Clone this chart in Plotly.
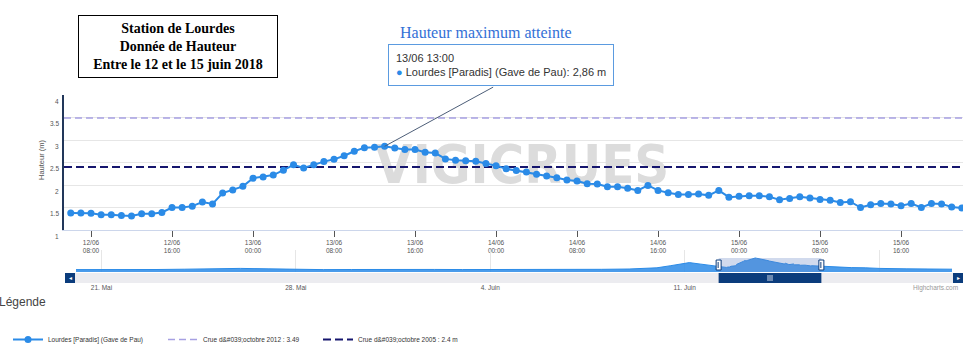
import pandas as pd
import plotly.graph_objects as go

# ---------------- data ----------------
station = "Lourdes [Paradis] (Gave de Pau)"
start_time = "2018-06-12 06:00"          # first hourly reading
hauteur_m = [
    1.38, 1.38, 1.37, 1.34, 1.34, 1.32, 1.31, 1.36, 1.36, 1.39,
    1.50, 1.50, 1.53, 1.62, 1.58, 1.82, 1.89, 1.97, 2.15, 2.18,
    2.22, 2.33, 2.45, 2.38, 2.45, 2.52, 2.57, 2.65, 2.75, 2.83,
    2.84, 2.86, 2.82, 2.79, 2.79, 2.73, 2.71, 2.58, 2.55, 2.54,
    2.53, 2.48, 2.43, 2.36, 2.32, 2.29, 2.24, 2.20, 2.16, 2.11,
    2.09, 2.03, 2.02, 1.96, 1.96, 1.93, 1.88, 1.99, 1.88, 1.83,
    1.79, 1.79, 1.80, 1.77, 1.88, 1.73, 1.75, 1.76, 1.76, 1.74,
    1.67, 1.70, 1.74, 1.71, 1.68, 1.66, 1.61, 1.63, 1.50, 1.56,
    1.59, 1.58, 1.54, 1.59, 1.50, 1.59, 1.58, 1.51, 1.49,
]

crue_names = ["Crue d&amp;#039;octobre 2012 : 3.49", "Crue d&amp;#039;octobre 2005 : 2.4 m"]
crue_levels = [3.49, 2.4]
crue_colors = ["#a6a0e2", "#16166e"]

# navigator (overview) series outside the zoomed window
nav_before_dates = [
    "2018-05-20 00:00", "2018-05-21 00:00", "2018-05-22 00:00", "2018-05-23 00:00",
    "2018-05-24 00:00", "2018-05-25 00:00", "2018-05-26 00:00", "2018-05-27 00:00",
    "2018-05-28 00:00", "2018-05-29 00:00", "2018-05-30 00:00", "2018-05-31 00:00",
    "2018-06-01 00:00", "2018-06-02 00:00", "2018-06-03 00:00", "2018-06-04 00:00",
    "2018-06-05 00:00", "2018-06-06 00:00", "2018-06-07 00:00", "2018-06-08 00:00",
    "2018-06-09 00:00", "2018-06-10 00:00", "2018-06-10 12:00", "2018-06-11 04:00",
    "2018-06-11 14:00", "2018-06-12 00:00",
]
nav_before_vals = [
    0.95, 0.93, 0.95, 0.97, 1.02, 1.10, 1.15, 1.08, 0.98, 0.95,
    0.97, 1.00, 1.02, 0.98, 0.96, 0.95, 0.98, 1.00, 0.98, 1.00,
    1.05, 1.25, 1.60, 2.10, 1.85, 1.55,
]
nav_after_dates = ["2018-06-16 12:00", "2018-06-17 00:00", "2018-06-17 12:00",
                   "2018-06-18 00:00", "2018-06-19 00:00", "2018-06-20 00:00",
                   "2018-06-20 15:00"]
nav_after_vals = [1.35, 1.28, 1.25, 1.15, 1.08, 1.03, 1.02]

# axes / ticks
x_range = ["2018-06-12 05:20", "2018-06-15 22:07"]
nav_range = ["2018-05-20 02:00", "2018-06-20 15:00"]
x_tick_start = "2018-06-12 08:00"
x_tick_count = 11
y_ticks = [1, 1.5, 2, 2.5, 3, 3.5, 4]
y_tick_labels = ["1", "1.5", "2", "2.5", "3", "3.5", "4"]
nav_tick_dates = ["2018-05-21", "2018-05-28", "2018-06-04", "2018-06-11", "2018-06-18"]
nav_tick_labels = ["21. Mai", "28. Mai", "4. Juin", "11. Juin", ""]

title_lines = ["Station de Lourdes", "Donnée de Hauteur", "Entre le 12 et le 15 juin 2018"]
max_label = "Hauteur maximum atteinte"
watermark = "VIGICRUES"

# ---------------- derived ----------------
times = pd.date_range(start_time, periods=len(hauteur_m), freq="h")
x_tickvals = pd.date_range(x_tick_start, periods=x_tick_count, freq="8h")
x_ticktext = [t.strftime("%d/%m") + "<br>" + t.strftime("%H:%M") for t in x_tickvals]

nav_x = ([pd.Timestamp(d) for d in nav_before_dates] + list(times)
         + [pd.Timestamp(d) for d in nav_after_dates])
nav_y = nav_before_vals + hauteur_m + nav_after_vals

imax = max(range(len(hauteur_m)), key=lambda i: hauteur_m[i])
t_max = times[imax]
v_max = hauteur_m[imax]

BLUE = "#2b8be7"
NAVY = "#0b3c7c"

# ---------------- layout geometry ----------------
W, H = 978, 357
ML, MR, MT, MB = 64, 15, 95, 72
PW, PH = W - ML - MR, H - MT - MB


def px(xp):
    return (xp - ML) / PW


def py(yp):
    return (H - MB - yp) / PH


fig = go.Figure()

# watermark (under the series)
wm_time = pd.Timestamp("2018-06-14 02:35")
fig.add_trace(go.Scatter(
    x=[wm_time], y=[2.34], mode="text", text=[watermark],
    textfont=dict(family="Liberation Sans Narrow, DejaVu Sans Condensed, Liberation Sans",
                  size=54, color="#dcdcdc", weight="bold"),
    hoverinfo="skip", showlegend=False))

# flood reference lines
x0, x1 = pd.Timestamp(x_range[0]), pd.Timestamp(x_range[1])
for name, lvl, col, dash, w, rank in zip(crue_names, crue_levels, crue_colors,
                                         ["7px,4px", "8px,4px"], [1.5, 2], [2, 3]):
    fig.add_trace(go.Scatter(
        x=[x0, x1], y=[lvl, lvl], mode="lines", name=name,
        line=dict(color=col, width=w, dash=dash), legendrank=rank, hoverinfo="skip"))

# main series
fig.add_trace(go.Scatter(
    x=times, y=hauteur_m, mode="lines+markers", name=station,
    line=dict(color=BLUE, width=2), marker=dict(color=BLUE, size=7),
    legendrank=1))

# navigator series
fig.add_trace(go.Scatter(
    x=nav_x, y=nav_y, mode="lines", fill="tozeroy", xaxis="x2", yaxis="y2",
    line=dict(color=BLUE, width=1), fillcolor="rgba(43,139,231,0.85)",
    showlegend=False, hoverinfo="skip"))

small = dict(family="Liberation Sans, Arial, sans-serif", size=6.5, color="#555555")

fig.update_layout(
    width=W, height=H,
    margin=dict(l=ML, r=MR, t=MT, b=MB, autoexpand=False),
    paper_bgcolor="white", plot_bgcolor="white",
    font=dict(family="Liberation Sans, Arial, sans-serif"),
    xaxis=dict(domain=[0, 1], anchor="y", range=x_range, tickvals=x_tickvals,
               ticktext=x_ticktext, ticks="outside", ticklen=6, tickcolor="#555555",
               showline=True, linecolor="#ccd6eb", linewidth=1, showgrid=False,
               zeroline=False, tickfont=small),
    yaxis=dict(domain=[py(230), 1], anchor="x", range=[1, 4], tickvals=y_ticks,
               showticklabels=False, showgrid=True, gridcolor="#e6e6e6",
               showline=True, linecolor="#22375a", linewidth=1.5, zeroline=False),
    xaxis2=dict(domain=[px(76), px(952)], anchor="y2", range=nav_range,
                tickvals=nav_tick_dates, ticktext=nav_tick_labels, ticks="",
                ticklabelstandoff=10, showgrid=True, gridcolor="#e6e6e6",
                showline=False, zeroline=False, tickfont=small),
    yaxis2=dict(domain=[py(272), py(250)], anchor="x2", range=[0.56, 4.17],
                visible=False),
    legend=dict(orientation="h", x=px(8), y=py(325), xanchor="left", yanchor="top",
                font=dict(family="Liberation Sans, Arial, sans-serif", size=6.5, color="#333333"),
                bgcolor="rgba(0,0,0,0)", entrywidth=110, itemwidth=30),
    showlegend=True,
    hovermode=False,
)

ann = []
# y tick labels (slightly below the grid lines, as in the source)
for v, lab in zip(y_ticks, y_tick_labels):
    ann.append(dict(x=0, xref="paper", y=v, yref="y", text=lab, showarrow=False,
                    xanchor="right", yanchor="middle", xshift=-3, yshift=-6, font=small))
# y axis title
ann.append(dict(x=px(41), y=py(160), xref="paper", yref="paper", text="Hauteur (m)",
                xanchor="center", yanchor="middle",
                textangle=-90, showarrow=False, font=dict(size=7.5, color="#555555")))
# title box
ann.append(dict(x=px(178), y=py(46.5), xref="paper", yref="paper",
                xanchor="center", yanchor="middle",
                text="<br>".join("<b>%s</b>" % t for t in title_lines),
                showarrow=False, font=dict(family="Liberation Serif, Times New Roman, serif",
                                           size=14, color="black"),
                bgcolor="white", bordercolor="black", borderwidth=1, borderpad=0,
                width=198, height=61, align="center", valign="middle"))
# max annotation: connector
ann.append(dict(x=t_max, y=v_max, xref="x", yref="y", text="", showarrow=True,
                arrowhead=0, arrowwidth=1, arrowcolor="#4d5e78", ax=110, ay=-60,
                standoff=0))
# tooltip box
tip = (t_max.strftime("%d/%m %H:%M") + "<br>"
       + "<span style='color:%s'>●</span> %s: %s m" % (BLUE, station, ("%.2f" % v_max).replace(".", ",")))
ann.append(dict(x=t_max, y=v_max, xref="x", yref="y", text=tip, showarrow=False,
                xanchor="center", yanchor="bottom", xshift=116, yshift=60,
                align="left", font=dict(family="Liberation Sans, Arial, sans-serif", size=11, color="#333333"),
                bgcolor="rgba(255,255,255,0.95)", bordercolor="#5b9be0", borderwidth=1,
                borderpad=7))
ann.append(dict(x=px(486), y=py(32), xref="paper", yref="paper", text=max_label,
                xanchor="center", yanchor="middle",
                showarrow=False, font=dict(family="Liberation Serif, Times New Roman, serif",
                                           size=16, color="#3370d6")))
# legend title
ann.append(dict(x=px(-3), y=py(302), xref="paper", yref="paper", text="Légende",
                showarrow=False, xanchor="left", yanchor="middle",
                font=dict(size=12, color="#444444")))
# credits
ann.append(dict(x=px(960), y=py(288), xref="paper", yref="paper", text="Highcharts.com",
                showarrow=False, xanchor="right", yanchor="middle",
                font=dict(size=6.5, color="#999999")))
# scrollbar arrows
ann.append(dict(x=px(70), y=py(278), xref="paper", yref="paper", text="◂", showarrow=False,
                xanchor="center", yanchor="middle", font=dict(size=6, color="white")))
ann.append(dict(x=px(958), y=py(278), xref="paper", yref="paper", text="▸", showarrow=False,
                xanchor="center", yanchor="middle", font=dict(size=6, color="white")))
fig.update_layout(annotations=ann)

# navigator window, handles and scrollbar
sel_mid = x0 + (x1 - x0) / 2
shapes = [
    dict(type="rect", xref="x2", yref="paper", x0=x0, x1=x1, y0=py(272), y1=py(258),
         fillcolor="rgba(102,133,194,0.3)", line=dict(width=0), layer="above"),
    dict(type="rect", xref="paper", yref="paper", x0=px(65), x1=px(963), y0=py(283), y1=py(273),
         fillcolor="#ececf0", line=dict(width=0)),
    dict(type="rect", xref="x2", yref="paper", x0=x0, x1=x1, y0=py(283), y1=py(273),
         fillcolor=NAVY, line=dict(width=0)),
    dict(type="rect", xref="paper", yref="paper", x0=px(65), x1=px(75), y0=py(283), y1=py(273),
         fillcolor=NAVY, line=dict(width=0)),
    dict(type="rect", xref="paper", yref="paper", x0=px(953), x1=px(963), y0=py(283), y1=py(273),
         fillcolor=NAVY, line=dict(width=0)),
]
for xa in (x0, x1):
    shapes.append(dict(type="rect", xref="x2", yref="paper", xsizemode="pixel", xanchor=xa,
                       x0=-2.5, x1=2.5, y0=py(270), y1=py(260), fillcolor="white",
                       line=dict(color=NAVY, width=1)))
    shapes.append(dict(type="line", xref="x2", yref="paper", xsizemode="pixel", xanchor=xa,
                       x0=-0.5, x1=-0.5, y0=py(268), y1=py(262), line=dict(color=NAVY, width=1)))
for off in (-2, 0, 2):
    shapes.append(dict(type="line", xref="x2", yref="paper", xsizemode="pixel", xanchor=sel_mid,
                       x0=off, x1=off, y0=py(281), y1=py(275), line=dict(color="#cfd8e8", width=1)))
fig.update_layout(shapes=shapes)

fig.write_html("out.html", config={"displayModeBar": False},
               post_script="document.body.style.margin='0';")
